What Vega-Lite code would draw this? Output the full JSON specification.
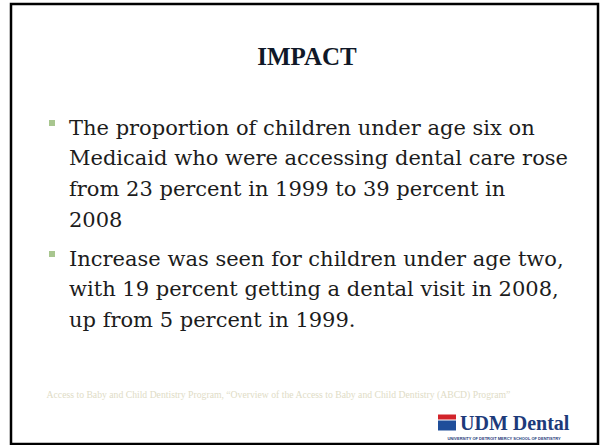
{
  "$schema": "https://vega.github.io/schema/vega-lite/v6.json",
  "width": 587,
  "height": 440,
  "padding": {"left": 11, "top": 4, "right": 2, "bottom": 1},
  "autosize": {"type": "none"},
  "background": "white",
  "config": {"view": {"stroke": "#000000", "strokeWidth": 2.5, "fill": "white"}},
  "datasets": {
    "title": [{"text": "IMPACT"}],
    "bullets": [
      {"item": 1, "lines": ["The proportion of children under age six on", "Medicaid who were accessing dental care rose", "from 23 percent in 1999 to 39 percent in", "2008"]},
      {"item": 2, "lines": ["Increase was seen for children under age two,", "with 19 percent getting a dental visit in 2008,", "up from 5 percent in 1999."]}
    ],
    "source": [{"text": "Access to Baby and Child Dentistry Program, “Overview of the Access to Baby and Child Dentistry (ABCD) Program”"}],
    "logo": [{"name": "UDM Dental", "sub": "UNIVERSITY OF DETROIT MERCY SCHOOL OF DENTISTRY"}]
  },
  "layer": [
    {
      "data": {"name": "title"},
      "mark": {"type": "text", "font": "Liberation Serif", "fontWeight": "bold", "fontSize": 25, "align": "center", "baseline": "alphabetic", "color": "#101828"},
      "encoding": {"text": {"field": "text"}, "x": {"value": 296}, "y": {"value": 60.5}}
    },
    {
      "data": {"name": "bullets"},
      "mark": {"type": "square", "size": 36, "filled": true, "color": "#a8c68f", "opacity": 1, "yOffset": -11.5},
      "encoding": {
        "x": {"value": 41},
        "y": {"field": "item", "type": "quantitative", "scale": {"domain": [1, 2], "range": [130.5, 261.5]}, "axis": null}
      }
    },
    {
      "data": {"name": "bullets"},
      "mark": {"type": "text", "font": "DejaVu Serif", "fontSize": 21, "lineHeight": 30.7, "align": "left", "baseline": "alphabetic", "color": "#1c1c1c"},
      "encoding": {
        "text": {"field": "lines"},
        "x": {"value": 58},
        "y": {"field": "item", "type": "quantitative", "scale": {"domain": [1, 2], "range": [130.5, 261.5]}, "axis": null}
      }
    },
    {
      "data": {"name": "source"},
      "mark": {"type": "text", "font": "Liberation Serif", "fontSize": 9.7, "align": "center", "baseline": "alphabetic", "color": "#e0dcc6"},
      "encoding": {"text": {"field": "text"}, "x": {"value": 267.5}, "y": {"value": 393.5}}
    },
    {
      "data": {"name": "logo"},
      "mark": {"type": "rect", "color": "#d2232a"},
      "encoding": {"x": {"value": 427}, "x2": {"value": 445}, "y": {"value": 410.5}, "y2": {"value": 415.5}}
    },
    {
      "data": {"name": "logo"},
      "mark": {"type": "rect", "color": "#1f4e9a"},
      "encoding": {"x": {"value": 427}, "x2": {"value": 445}, "y": {"value": 416.5}, "y2": {"value": 426.5}}
    },
    {
      "data": {"name": "logo"},
      "mark": {"type": "text", "font": "Liberation Serif", "fontWeight": "bold", "fontSize": 20, "align": "left", "baseline": "alphabetic", "color": "#1d3a7a"},
      "encoding": {"text": {"field": "name"}, "x": {"value": 449}, "y": {"value": 426}}
    },
    {
      "data": {"name": "logo"},
      "mark": {"type": "text", "font": "Liberation Sans", "fontWeight": "bold", "fontSize": 4, "align": "center", "baseline": "alphabetic", "color": "#1d3a7a"},
      "encoding": {"text": {"field": "sub"}, "x": {"value": 493}, "y": {"value": 435.5}}
    }
  ]
}
